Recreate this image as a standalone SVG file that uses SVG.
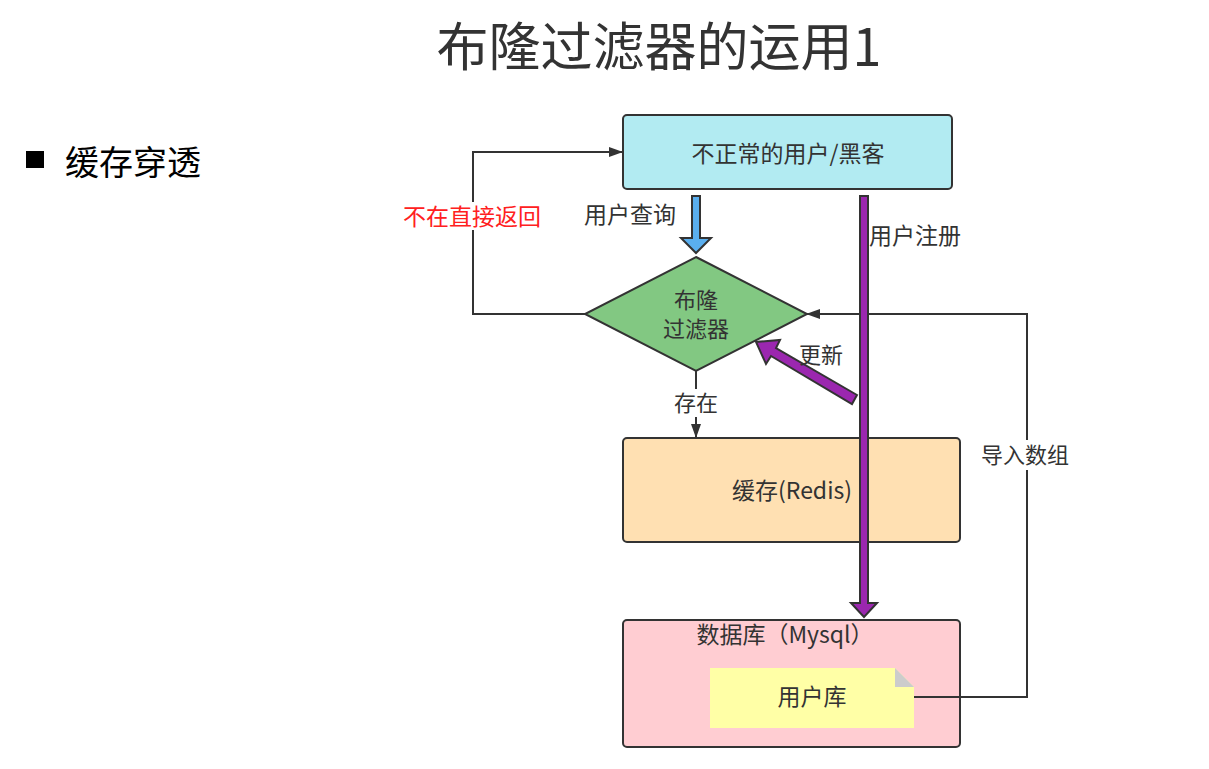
<svg xmlns="http://www.w3.org/2000/svg" width="1209" height="769" viewBox="0 0 1209 769">
<style>
text{font-family:"Noto Sans CJK SC","Liberation Sans",sans-serif;fill:#333}
.t{font-size:23px;text-anchor:middle;dominant-baseline:central}
.s{font-size:22px}
.box{stroke:#333;stroke-width:2}
.ln{fill:none;stroke:#333;stroke-width:2}
.bg{fill:#fff}
</style>
<defs>
<marker id="ah" viewBox="0 0 14 10" refX="13" refY="5" markerWidth="14" markerHeight="10" markerUnits="userSpaceOnUse" orient="auto">
<path d="M0,0 L14,5 L0,10 Z" fill="#333"/>
</marker>
</defs>
<rect width="1209" height="769" fill="#fff"/>
<text x="659" y="43" style="font-size:52px;text-anchor:middle;dominant-baseline:central">布隆过滤器的运用1</text>
<rect x="26" y="151" width="18" height="17" fill="#000"/>
<text x="65" y="160" style="font-size:34px;dominant-baseline:central;fill:#000">缓存穿透</text>

<g id="user">
<rect class="box" x="623" y="115" width="329" height="74" rx="4" fill="#b2ebf2"/>
<text class="t" x="788" y="152">不正常的用户/黑客</text>
</g>
<g id="bloom">
<polygon class="box" points="696,257 807,314 696,371 585,314" fill="#82c882"/>
<text class="t s" x="696" y="298">布隆</text>
<text class="t s" x="696" y="327">过滤器</text>
</g>
<g id="cache">
<rect class="box" x="623" y="438" width="337" height="104" rx="4" fill="#ffe0b2"/>
<text class="t" x="792" y="489">缓存(Redis)</text>
</g>
<g id="db">
<rect class="box" x="623" y="620" width="337" height="127" rx="4" fill="#ffcdd2"/>
<text class="t" x="785" y="633">数据库（Mysql）</text>
</g>
<g id="userdb">
<path d="M710,668 H895 L914,687 V728 H710 Z" fill="#ffffa6"/>
<path d="M895,668 L914,687 H895 Z" fill="#cccccc"/>
<text class="t" x="812" y="695">用户库</text>
</g>

<g id="connectors">
<polyline class="ln" points="585,314 473,314 473,152 622,152" marker-end="url(#ah)"/>
<rect class="bg" x="403" y="202" width="138" height="28"/>
<text class="t" x="472" y="215" style="fill:#ff2020">不在直接返回</text>
<polyline class="ln" points="696,371 696,437" marker-end="url(#ah)"/>
<rect class="bg" x="670" y="389" width="52" height="28"/>
<text class="t s" x="696" y="401">存在</text>
<polyline class="ln" points="914,697 1027,697 1027,314 807,314" marker-end="url(#ah)"/>
<rect class="bg" x="981" y="440" width="90" height="30"/>
<text class="t s" x="1025" y="453">导入数组</text>
<path d="M692,196 H700 V238 H711 L696,253 L681,238 H692 Z" fill="#5aafef" stroke="#333" stroke-width="2"/>
<text class="t" x="630" y="213">用户查询</text>
<path d="M860,196 H868 V603 H877 L864,617 L851,603 H860 Z" fill="#9b27af" stroke="#333" stroke-width="2"/>
<text class="t" x="915" y="234">用户注册</text>
<path d="M857,395 L852,404 L771,356 L766,364 L756,342 L780,340 L776,348 Z" fill="#9b27af" stroke="#333" stroke-width="2"/>
<text class="t s" x="821" y="353">更新</text>
</g>
</svg>
